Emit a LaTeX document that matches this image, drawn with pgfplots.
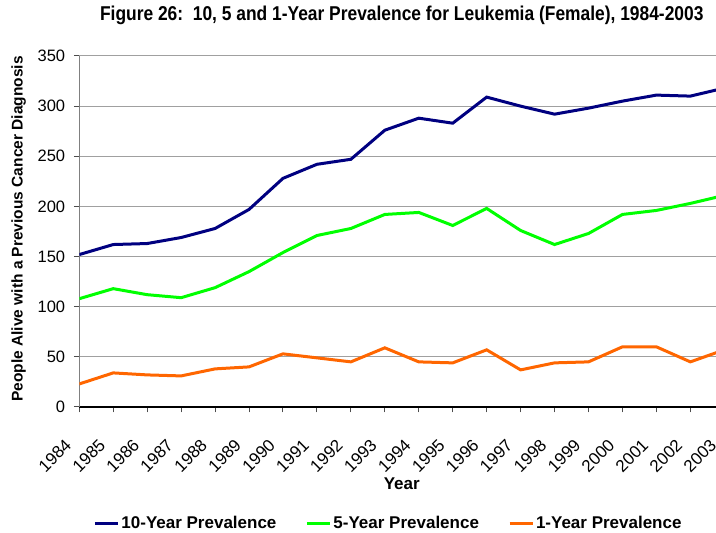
\documentclass[border=0pt]{standalone}
\usepackage{pgfplots}
\pgfplotsset{compat=1.18}
\usepackage{fontspec}
\setmainfont{Liberation Sans}
\usepackage{graphicx}
\definecolor{navyline}{RGB}{0,0,128}
\definecolor{limeline}{RGB}{0,255,0}
\definecolor{orangeline}{RGB}{255,102,0}
\definecolor{gridgray}{RGB}{160,160,160}
\definecolor{axisgray}{RGB}{128,128,128}
\begin{document}
\begin{tikzpicture}
\useasboundingbox (0,0) rectangle (716pt,533pt);
\clip (0,0) rectangle (716pt,533pt);
\begin{axis}[
  at={(79.3pt,126pt)}, anchor=south west,
  scale only axis, width=645pt, height=351pt,
  xmin=1984, xmax=2003, ymin=0, ymax=350,
  xtick={1984,1985,...,2003}, ytick={0,50,...,350},
  axis x line*=bottom, axis y line*=left,
  x axis line style={-, black, line width=1.3pt},
  y axis line style={-, axisgray, line width=1.3pt},
  tick align=outside, major tick length=5.5pt,
  xtick pos=bottom, ytick pos=left,
  tick style={line width=1pt, color=black!70},
  ymajorgrids, grid style={gridgray, line width=1pt},
  /pgf/number format/1000 sep={},
  /pgf/number format/assume math mode=true,
  ticklabel style={font=\fontsize{16.5pt}{19pt}\selectfont},
  xticklabel style={font=\fontsize{17pt}{19pt}\selectfont, rotate=45, anchor=east, inner sep=0pt, xshift=-28.8pt, yshift=-13.3pt},
  yticklabel style={anchor=east, inner sep=0pt, xshift=-8.5pt},
  title={\scalebox{0.87}[1]{Figure 26:\ \ 10, 5 and 1-Year Prevalence for Leukemia (Female), 1984-2003}},
  title style={font=\fontsize{20pt}{24pt}\selectfont\bfseries, at={(axis description cs:0.5,1.0843)}, anchor=base},
  xlabel={Year},
  xlabel style={font=\fontsize{17pt}{20pt}\selectfont\bfseries, at={(axis description cs:0.5,-0.2345)}, anchor=base},
  ylabel={People Alive with a Previous Cancer Diagnosis},
  ylabel style={font=\fontsize{15.5pt}{18pt}\selectfont\bfseries, at={(axis description cs:-0.08775,0.5071)}, anchor=base},
  legend columns=3,
  legend style={at={(axis description cs:0.4794,-0.3305)}, anchor=center, draw=none, fill=none,
    font=\fontsize{17pt}{20pt}\selectfont\bfseries,
    /tikz/every even column/.append style={column sep=27pt}},
  legend image code/.code={\draw[#1] (0pt,0pt) -- (23pt,0pt);},
  every axis plot/.append style={line width=3pt, mark=none},
]
\addplot[navyline] coordinates {
(1984,152) (1985,162) (1986,163) (1987,169) (1988,178) (1989,197) (1990,228)
(1991,242) (1992,247) (1993,276) (1994,288) (1995,283) (1996,309) (1997,300)
(1998,292) (1999,298) (2000,305) (2001,311) (2002,310) (2003,318)};
\addlegendentry{10-Year Prevalence}
\addplot[limeline] coordinates {
(1984,108) (1985,118) (1986,112) (1987,109) (1988,119) (1989,135) (1990,154)
(1991,171) (1992,178) (1993,192) (1994,194) (1995,181) (1996,198) (1997,176)
(1998,162) (1999,173) (2000,192) (2001,196) (2002,203) (2003,211)};
\addlegendentry{5-Year Prevalence}
\addplot[orangeline] coordinates {
(1984,23) (1985,34) (1986,32) (1987,31) (1988,38) (1989,40) (1990,53)
(1991,49) (1992,45) (1993,59) (1994,45) (1995,44) (1996,57) (1997,37)
(1998,44) (1999,45) (2000,60) (2001,60) (2002,45) (2003,57)};
\addlegendentry{1-Year Prevalence}
\end{axis}
\end{tikzpicture}
\end{document}
